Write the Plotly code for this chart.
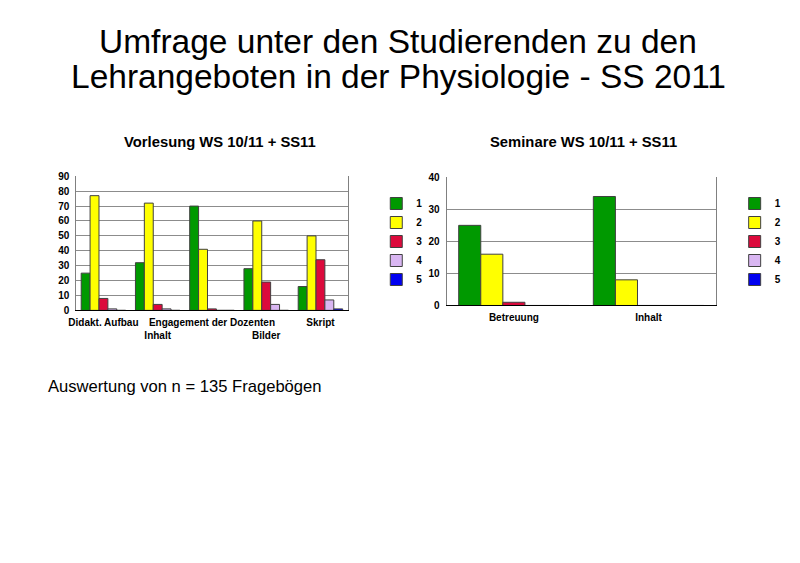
import plotly.graph_objects as go

# ---- data ----
vorlesung_cats = ["Didakt. Aufbau", "Inhalt", "Engagement der Dozenten", "Bilder", "Skript"]
vorlesung_ticktext = ["Didakt. Aufbau", "<br>Inhalt", "Engagement der Dozenten", "<br>Bilder", "Skript"]
v_1 = [25, 32, 70, 28, 16]
v_2 = [77, 72, 41, 60, 50]
v_3 = [8, 4, 1, 19, 34]
v_4 = [1, 1, 0, 4, 7]
v_5 = [0, 0, 0, 0, 1]

seminar_cats = ["Betreuung", "Inhalt"]
s_1 = [25, 34]
s_2 = [16, 8]
s_3 = [1, 0]
s_4 = [0, 0]
s_5 = [0, 0]

grade_names = ["1", "2", "3", "4", "5"]
colors = ["#009900", "#FFFF00", "#DC0A3C", "#D9B6F2", "#0000F0"]

FONT = "Liberation Sans, Arial, sans-serif"

fig = go.Figure()

v_series = [v_1, v_2, v_3, v_4, v_5]
s_series = [s_1, s_2, s_3, s_4, s_5]

for name, vals, col in zip(grade_names, v_series, colors):
    fig.add_trace(go.Bar(
        x=vorlesung_cats, y=vals, name=name, marker=dict(color=col, line=dict(color="#404040", width=1)),
        xaxis="x", yaxis="y", legend="legend", hoverinfo="x+y+name"))

for name, vals, col in zip(grade_names, s_series, colors):
    fig.add_trace(go.Bar(
        x=seminar_cats, y=vals, name=name, marker=dict(color=col, line=dict(color="#404040", width=1)),
        xaxis="x2", yaxis="y2", legend="legend2", hoverinfo="x+y+name"))

W, H = 800, 563

def px_x(p):
    return p / W

def px_y(p):
    return 1 - p / H

tickfont = dict(family=FONT, size=10, color="black", weight="bold")

axis_common_y = dict(showgrid=True, gridcolor="#8c8c8c", gridwidth=1, zeroline=False,
                     showline=True, linecolor="#808080", linewidth=1, mirror=True,
                     ticks="", tickfont=tickfont, ticklabelstandoff=4, fixedrange=True)
axis_common_x = dict(showgrid=False, zeroline=False, showline=True, linecolor="black", linewidth=1,
                     ticks="", tickfont=tickfont, tickangle=0, ticklabelstandoff=3, fixedrange=True)

legend_font = dict(family=FONT, size=10, color="black", weight="bold")

fig.update_layout(
    width=W, height=H,
    margin=dict(l=0, r=0, t=0, b=0),
    paper_bgcolor="white", plot_bgcolor="white",
    barmode="group", bargap=0.18, bargroupgap=0,
    font=dict(family=FONT, color="black"),
    xaxis=dict(domain=[px_x(69), px_x(343)], anchor="y",
               tickmode="array", tickvals=vorlesung_cats, ticktext=vorlesung_ticktext,
               **axis_common_x),
    yaxis=dict(domain=[px_y(311), px_y(174)], anchor="x", range=[0, 90], dtick=10, **axis_common_y),
    xaxis2=dict(domain=[px_x(443), px_x(715)], anchor="y2", **axis_common_x),
    yaxis2=dict(domain=[px_y(306), px_y(175)], anchor="x2", range=[0, 40], dtick=10, **axis_common_y),
    legend=dict(x=px_x(372), y=px_y(187), xanchor="left", yanchor="top",
                font=legend_font, bgcolor="rgba(0,0,0,0)", itemwidth=30, tracegroupgap=0),
    legend2=dict(x=px_x(734), y=px_y(187), xanchor="left", yanchor="top",
                 font=legend_font, bgcolor="rgba(0,0,0,0)", itemwidth=30, tracegroupgap=0),
    showlegend=True,
)

ann = [
    dict(text="Umfrage unter den Studierenden zu den", x=394, y=36, size=33.5, xanchor="center"),
    dict(text="Lehrangeboten in der Physiologie - SS 2011", x=394, y=72, size=33.5, xanchor="center"),
    dict(text="<b>Vorlesung WS 10/11 + SS11</b>", x=214, y=139, size=14.8, xanchor="center"),
    dict(text="<b>Seminare WS 10/11 + SS11</b>", x=581, y=139, size=14.8, xanchor="center"),
    dict(text="Auswertung von n = 135 Fragebögen", x=38, y=389, size=16.6, xanchor="left"),
]
for a in ann:
    fig.add_annotation(text=a["text"], x=px_x(a["x"]), y=px_y(a["y"]), xref="paper", yref="paper",
                       xanchor=a["xanchor"], yanchor="middle", showarrow=False,
                       font=dict(family=FONT, size=a["size"], color="black"))

fig.write_html("out.html")
